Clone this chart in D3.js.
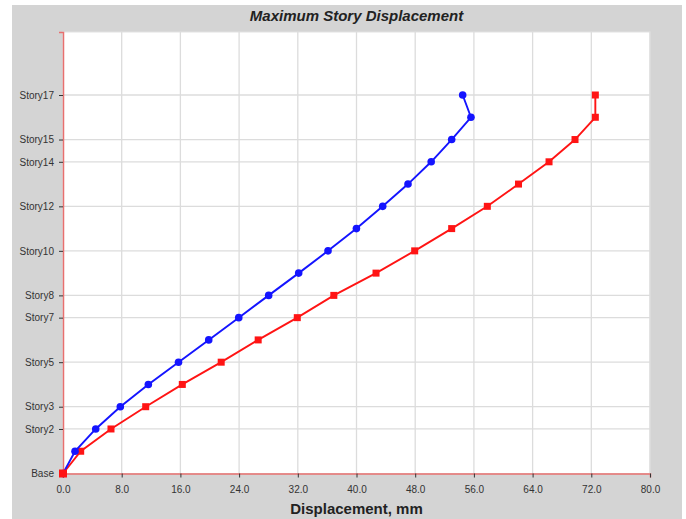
<!DOCTYPE html>
<html><head><meta charset="utf-8">
<script src="https://cdn.jsdelivr.net/npm/d3@7"></script>
<style>body{margin:0;background:#fff}svg{display:block}</style>
</head><body><svg id="c" width="686" height="519"></svg>
<script>
const stories = ["Base","Story1","Story2","Story3","Story4","Story5","Story6","Story7","Story8","Story9","Story10","Story11","Story12","Story13","Story14","Story15","Story16","Story17"];
const blueValues = [0,1.64,4.46,7.81,11.63,15.74,19.86,23.95,28.03,32.12,36.12,39.99,43.57,47.02,50.18,52.97,55.6,54.47];
const redValues = [0,2.41,6.54,11.27,16.26,21.56,26.6,31.93,36.91,42.66,47.93,52.97,57.83,62.08,66.24,69.78,72.55,72.55];
const yTickLabels = ["Base","Story2","Story3","Story5","Story7","Story8","Story10","Story12","Story14","Story15","Story17"];
const xTicks = [0,8,16,24,32,40,48,56,64,72,80];
const title = "Maximum Story Displacement";
const xLabel = "Displacement, mm";

const svg = d3.select("#c");
const m = {l:63, r:650, t:32, b:473.5};
svg.append("rect").attr("x",12).attr("y",5).attr("width",670).attr("height",514).attr("fill","#d4d4d4");
svg.append("rect").attr("x",m.l).attr("y",m.t).attr("width",m.r-m.l).attr("height",m.b-m.t).attr("fill","#fff").attr("stroke","#e2e2e2");

const x = d3.scaleLinear().domain([0,80]).range([m.l,m.r]);
const y = d3.scaleLinear().domain([0,19.83]).range([m.b,m.t]);
const idx = s => stories.indexOf(s);

// grid
svg.append("g").selectAll("line").data(xTicks.slice(1)).join("line")
  .attr("x1",d=>x(d)).attr("x2",d=>x(d)).attr("y1",m.t).attr("y2",m.b)
  .attr("stroke","#dcdcdc").attr("stroke-width",1.3);
svg.append("g").selectAll("line").data(yTickLabels.slice(1)).join("line")
  .attr("x1",m.l).attr("x2",m.r).attr("y1",d=>y(idx(d))).attr("y2",d=>y(idx(d)))
  .attr("stroke","#dcdcdc").attr("stroke-width",1.3);

// axes
const xAxis = d3.axisBottom(x).tickValues(xTicks).tickFormat(d3.format(".1f")).tickSize(4).tickPadding(8);
const gx = svg.append("g").attr("transform",`translate(0,${m.b})`).call(xAxis);
gx.select(".domain").attr("stroke","#e8706f").attr("stroke-width",1.5);
gx.selectAll(".tick line").attr("stroke","#333");
gx.selectAll("text").attr("font-family","Liberation Sans, Arial, sans-serif").attr("font-size",10).attr("fill","#333");

const yAxis = d3.axisLeft(y).tickValues(yTickLabels.map(idx)).tickFormat(d=>stories[d]).tickSize(4).tickPadding(5);
const gy = svg.append("g").attr("transform",`translate(${m.l},0)`).call(yAxis);
gy.select(".domain").attr("stroke","#e8706f").attr("stroke-width",1.5);
gy.selectAll(".tick line").attr("stroke","#333");
gy.selectAll("text").attr("font-family","Liberation Sans, Arial, sans-serif").attr("font-size",10).attr("fill","#333");

// series
const line = d3.line().x(d=>x(d[0])).y(d=>y(d[1]));
const redPts = redValues.map((v,i)=>[v,i]);
const bluePts = blueValues.map((v,i)=>[v,i]);

svg.append("path").datum(redPts).attr("d",line).attr("fill","none").attr("stroke","#ff1414").attr("stroke-width",1.9);
svg.append("g").selectAll("rect").data(redPts).join("rect")
  .attr("x",d=>x(d[0])-3.5).attr("y",d=>y(d[1])-3.5).attr("width",7).attr("height",7).attr("fill","#ff1414");

svg.append("path").datum(bluePts).attr("d",line).attr("fill","none").attr("stroke","#1414ff").attr("stroke-width",1.9);
svg.append("g").selectAll("circle").data(bluePts).join("circle")
  .attr("cx",d=>x(d[0])).attr("cy",d=>y(d[1])).attr("r",3.8).attr("fill","#1414ff");
// red base drawn on top at origin
svg.append("rect").attr("x",x(redValues[0])-4).attr("y",y(0)-4).attr("width",8).attr("height",8).attr("fill","#ff1414");

svg.append("text").attr("x",(m.l+m.r)/2).attr("y",21).attr("text-anchor","middle")
  .attr("font-family","Liberation Sans, Arial, sans-serif").attr("font-size",15).attr("font-weight","bold").attr("font-style","italic").attr("fill","#222").text(title);
svg.append("text").attr("x",(m.l+m.r)/2).attr("y",514).attr("text-anchor","middle")
  .attr("font-family","Liberation Sans, Arial, sans-serif").attr("font-size",15).attr("font-weight","bold").attr("fill","#222").text(xLabel);
</script></body></html>
